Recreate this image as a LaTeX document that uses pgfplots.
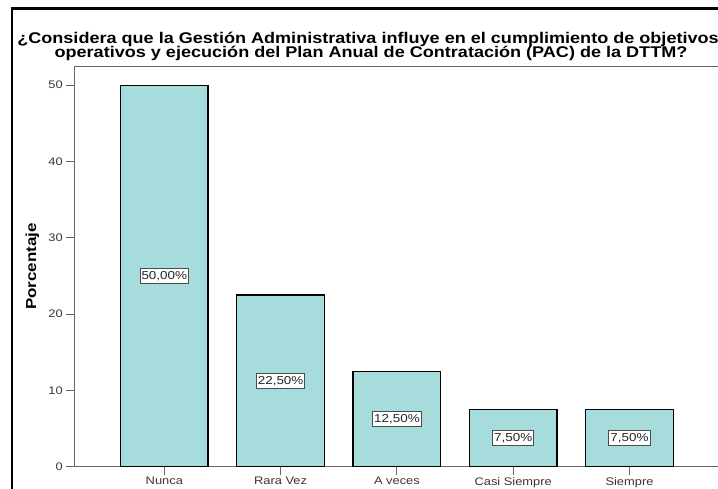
\documentclass[border=0pt]{standalone}
\usepackage{fontspec}
\setmainfont{Liberation Sans}
\usepackage{graphicx}
\usepackage{pgfplots}
\pgfplotsset{compat=1.18}
\definecolor{barfill}{RGB}{166,220,220}
\definecolor{axgray}{RGB}{105,105,105}
\definecolor{lblgray}{RGB}{55,55,55}
\newcommand{\wide}[1]{\scalebox{1.17}[1]{#1}}
\begin{document}
\begin{tikzpicture}
\clip (0,0) rectangle (718pt,488pt);
\begin{axis}[
  at={(74.3pt,21.3pt)}, anchor=south west,
  x=116.3pt, y=7.63pt,
  xmin=-0.774, xmax=4.8, ymin=0, ymax=52.5,
  axis line style={draw=axgray, line width=0.9pt},
  xtick={0,1,2,3,4},
  xticklabels={\wide{Nunca}, \wide{Rara Vez}, \wide{A veces}, \wide{Casi Siempre}, \wide{Siempre}},
  ytick={0,10,20,30,40,50},
  yticklabel={\wide{\pgfmathprintnumber{\tick}}},
  tick align=outside, xtick pos=bottom, ytick pos=left,
  major tick length=8pt,
  tick style={draw=axgray, line width=0.9pt},
  ticklabel style={font=\fontsize{11}{12}\selectfont, text=lblgray},
  xticklabel style={yshift=1pt},
  /pgf/number format/assume math mode=true,
  ylabel={\wide{Porcentaje}},
  ylabel style={at={(axis description cs:-0.0648,0.5)}, anchor=center, font=\bfseries\fontsize{14.5}{14}\selectfont},
  clip=false,
]
\addplot[ybar, bar width=87.6pt, fill=barfill, draw=black, line width=1.3pt]
  coordinates {(0,50) (1,22.5) (2,12.5) (3,7.5) (4,7.5)};
\addplot[draw=none, mark=none, nodes near coords={\wide{\pgfplotspointmeta}}, point meta=explicit symbolic,
  nodes near coords style={anchor=center, fill=white, draw=black!70, line width=0.9pt,
    inner xsep=1.5pt, inner ysep=3pt, font=\fontsize{11.5}{12}\selectfont, text=black!85}]
  coordinates {(0,25)[50,00\%] (1,11.25)[22,50\%] (2,6.25)[12,50\%] (3,3.75)[7,50\%] (4,3.75)[7,50\%]};
\end{axis}
\node[anchor=base, font=\bfseries\fontsize{15.5}{15}\selectfont] at (368pt,444.7pt)
  {\scalebox{1.165}[1]{¿Considera que la Gestión Administrativa influye en el cumplimiento de objetivos}};
\node[anchor=base, font=\bfseries\fontsize{15.5}{15}\selectfont] at (371pt,430.7pt)
  {\scalebox{1.165}[1]{operativos y ejecución del Plan Anual de Contratación (PAC) de la DTTM?}};
\draw[line width=2.5pt] (12pt,-20pt) |- (740pt,479.5pt);
\end{tikzpicture}
\end{document}
